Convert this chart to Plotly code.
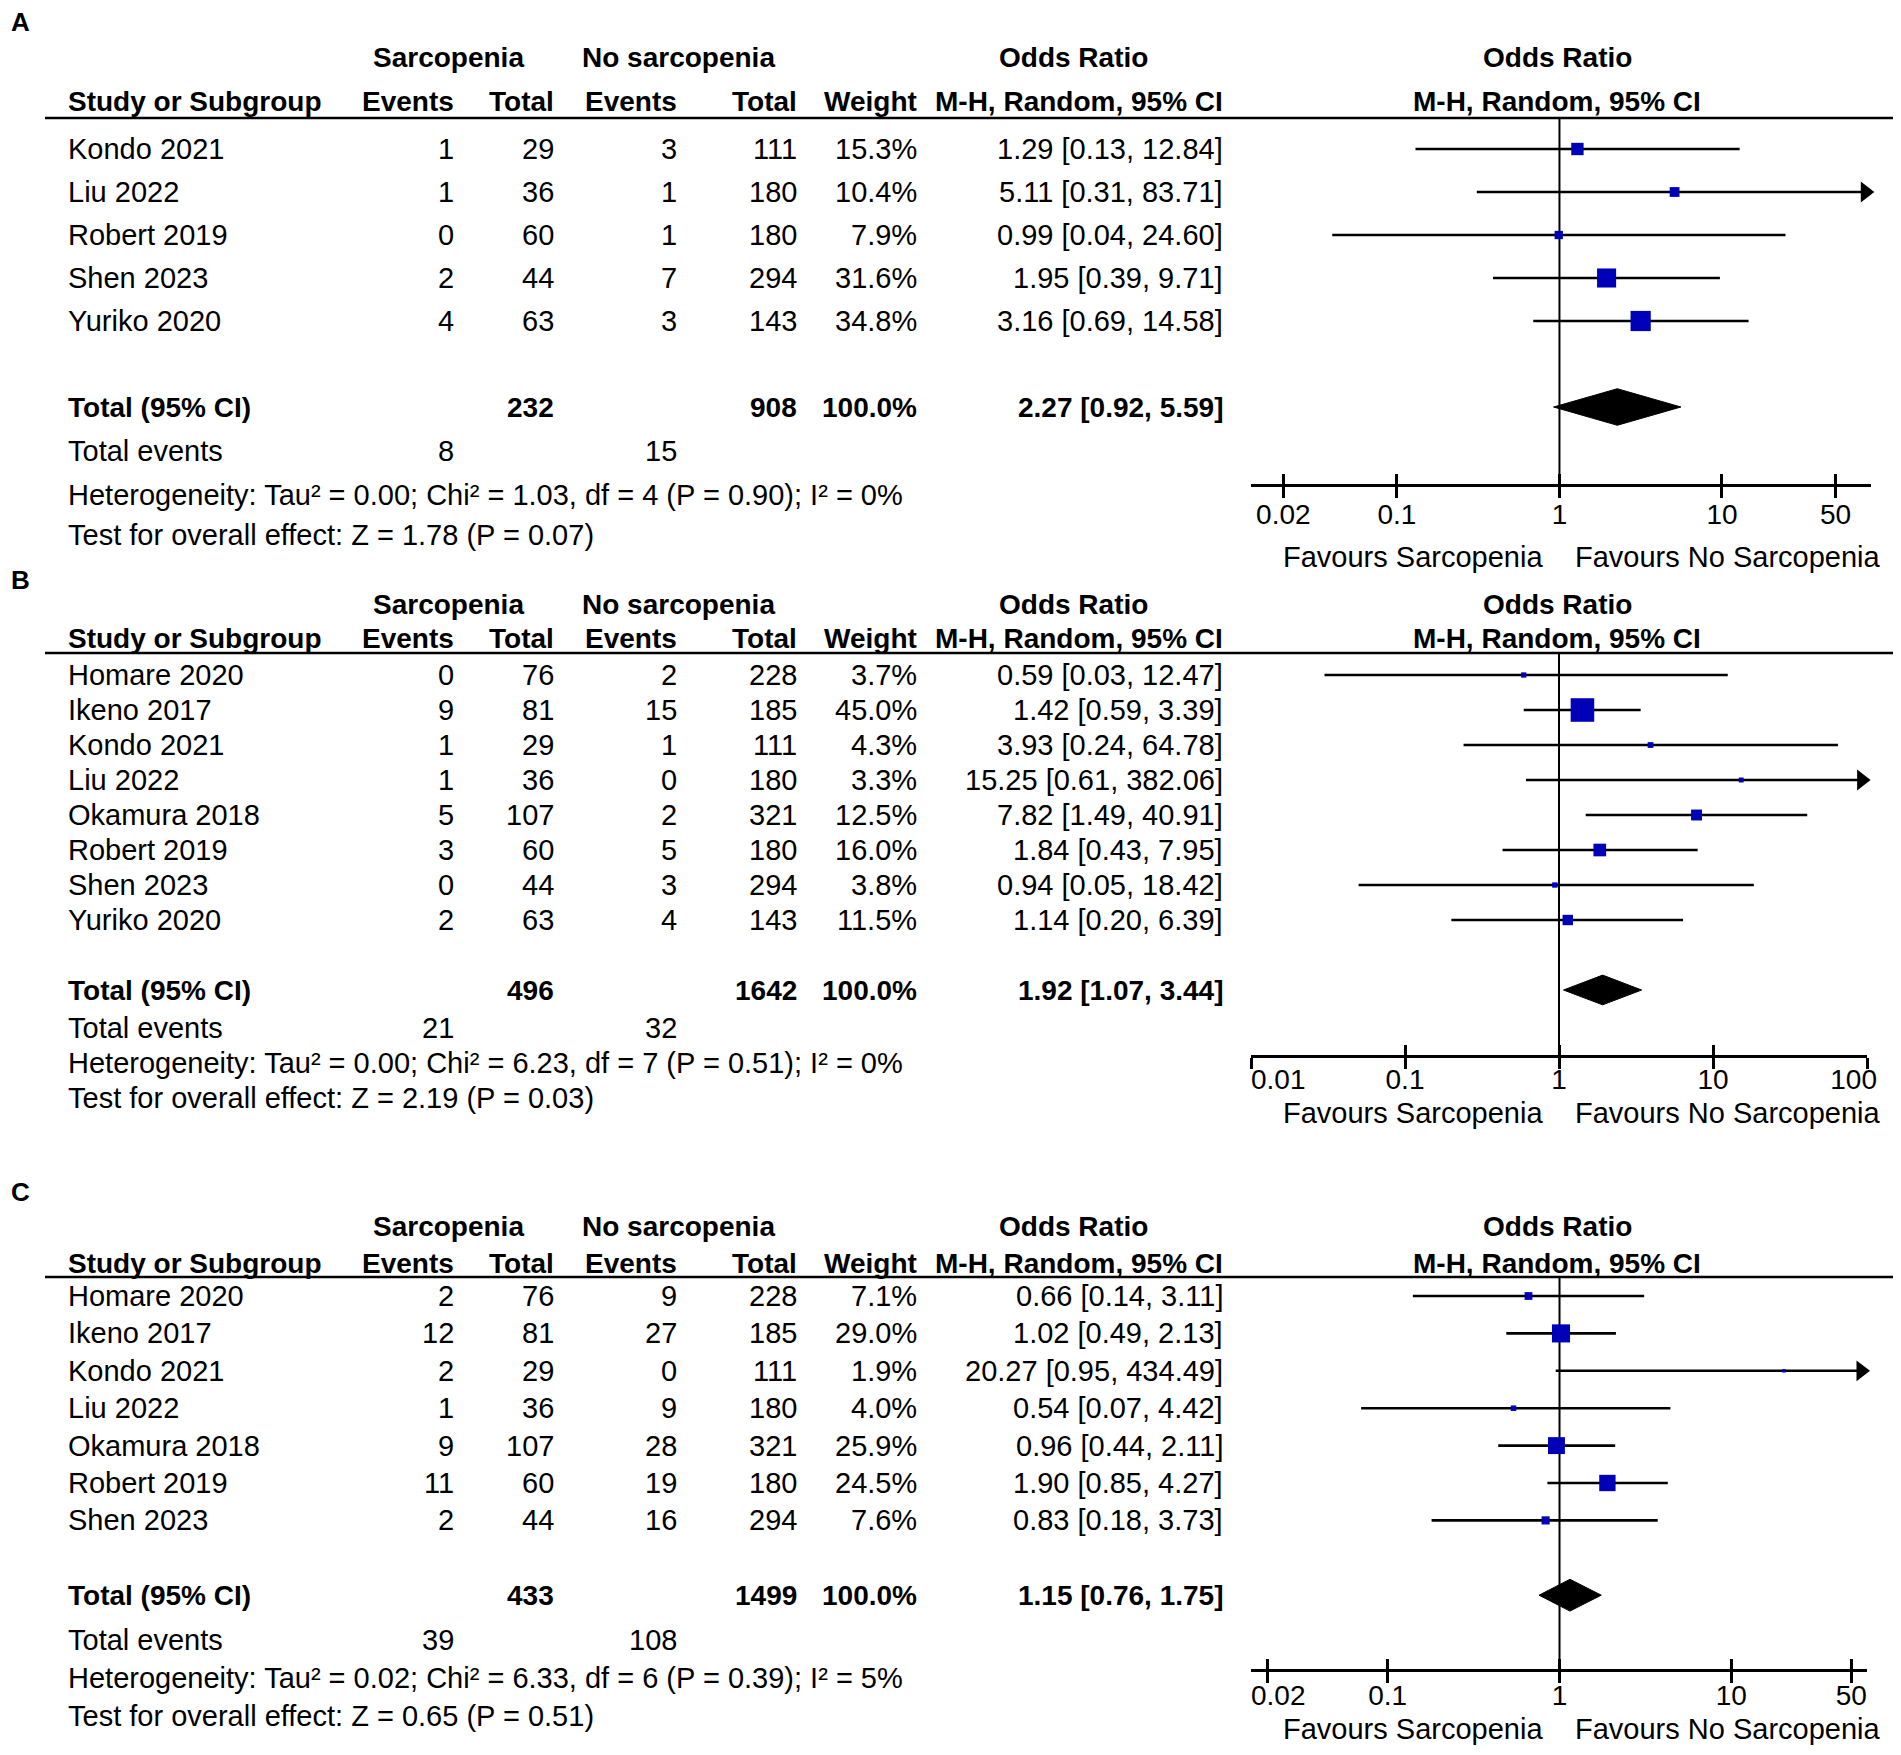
import math
import plotly.graph_objects as go

W, H = 1901, 1755

# ---------------- data ----------------
# Panel A
a_studies = ["Kondo 2021", "Liu 2022", "Robert 2019", "Shen 2023", "Yuriko 2020"]
a_sar_events = [1, 1, 0, 2, 4]
a_sar_total = [29, 36, 60, 44, 63]
a_no_events = [3, 1, 1, 7, 3]
a_no_total = [111, 180, 180, 294, 143]
a_weight = [15.3, 10.4, 7.9, 31.6, 34.8]
a_or = [1.29, 5.11, 0.99, 1.95, 3.16]
a_lo = [0.13, 0.31, 0.04, 0.39, 0.69]
a_hi = [12.84, 83.71, 24.60, 9.71, 14.58]
a_totals = [232, 908, 100.0]
a_total_events = [8, 15]
a_pooled = [2.27, 0.92, 5.59]
a_het = "Heterogeneity: Tau² = 0.00; Chi² = 1.03, df = 4 (P = 0.90); I² = 0%"
a_test = "Test for overall effect: Z = 1.78 (P = 0.07)"
a_ticks = [0.02, 0.1, 1, 10, 50]
a_tick_labels = ["0.02", "0.1", "1", "10", "50"]

# Panel B
b_studies = ["Homare 2020", "Ikeno 2017", "Kondo 2021", "Liu 2022", "Okamura 2018",
             "Robert 2019", "Shen 2023", "Yuriko 2020"]
b_sar_events = [0, 9, 1, 1, 5, 3, 0, 2]
b_sar_total = [76, 81, 29, 36, 107, 60, 44, 63]
b_no_events = [2, 15, 1, 0, 2, 5, 3, 4]
b_no_total = [228, 185, 111, 180, 321, 180, 294, 143]
b_weight = [3.7, 45.0, 4.3, 3.3, 12.5, 16.0, 3.8, 11.5]
b_or = [0.59, 1.42, 3.93, 15.25, 7.82, 1.84, 0.94, 1.14]
b_lo = [0.03, 0.59, 0.24, 0.61, 1.49, 0.43, 0.05, 0.20]
b_hi = [12.47, 3.39, 64.78, 382.06, 40.91, 7.95, 18.42, 6.39]
b_totals = [496, 1642, 100.0]
b_total_events = [21, 32]
b_pooled = [1.92, 1.07, 3.44]
b_het = "Heterogeneity: Tau² = 0.00; Chi² = 6.23, df = 7 (P = 0.51); I² = 0%"
b_test = "Test for overall effect: Z = 2.19 (P = 0.03)"
b_ticks = [0.01, 0.1, 1, 10, 100]
b_tick_labels = ["0.01", "0.1", "1", "10", "100"]

# Panel C
c_studies = ["Homare 2020", "Ikeno 2017", "Kondo 2021", "Liu 2022", "Okamura 2018",
             "Robert 2019", "Shen 2023"]
c_sar_events = [2, 12, 2, 1, 9, 11, 2]
c_sar_total = [76, 81, 29, 36, 107, 60, 44]
c_no_events = [9, 27, 0, 9, 28, 19, 16]
c_no_total = [228, 185, 111, 180, 321, 180, 294]
c_weight = [7.1, 29.0, 1.9, 4.0, 25.9, 24.5, 7.6]
c_or = [0.66, 1.02, 20.27, 0.54, 0.96, 1.90, 0.83]
c_lo = [0.14, 0.49, 0.95, 0.07, 0.44, 0.85, 0.18]
c_hi = [3.11, 2.13, 434.49, 4.42, 2.11, 4.27, 3.73]
c_totals = [433, 1499, 100.0]
c_total_events = [39, 108]
c_pooled = [1.15, 0.76, 1.75]
c_het = "Heterogeneity: Tau² = 0.02; Chi² = 6.33, df = 6 (P = 0.39); I² = 5%"
c_test = "Test for overall effect: Z = 0.65 (P = 0.51)"
c_ticks = [0.02, 0.1, 1, 10, 50]
c_tick_labels = ["0.02", "0.1", "1", "10", "50"]

group_left = "Sarcopenia"
group_right = "No sarcopenia"
fav_left = "Favours Sarcopenia"
fav_right = "Favours No Sarcopenia"

# ---------------- layout constants (pixels) ----------------
FONT = "Liberation Sans, Arial, Helvetica, sans-serif"
FS = 28      # bold headers / tick labels
FSR = 29     # regular body text
BLUE = "#0000B8"
OX, OY = -8, -8   # compensate page body margin
LABEL_RIGHT_BOUND = 1877
COL = dict(name=67, se=455, st=555, ne=678, nt=798, w=918, orx=1224,
           grp_l=448, grp_r=678, or_hdr=1073, forest_hdr=1557)

panels = [
    dict(label="A", top=0, bottom=568, lab=22, h1=58, h2=102, line=118, y0=149, dy=43,
         total_k=6, tev=451, het=495, test=535, axis=485, fav=557, standoff=-7,
         dom=(1251, 1871), rng=(-1.898, 1.917),
         studies=a_studies, se=a_sar_events, st=a_sar_total, ne=a_no_events, nt=a_no_total,
         w=a_weight, orv=a_or, lo=a_lo, hi=a_hi, totals=a_totals, tevents=a_total_events,
         pooled=a_pooled, hettxt=a_het, testtxt=a_test, ticks=a_ticks, ticklab=a_tick_labels),
    dict(label="B", top=568, bottom=1165, lab=580, h1=604, h2=638, line=653, y0=675, dy=35,
         total_k=9, tev=1028, het=1063, test=1098, axis=1055.6, fav=1113, standoff=-12,
         dom=(1251, 1867), rng=(-2.0, 2.0),
         studies=b_studies, se=b_sar_events, st=b_sar_total, ne=b_no_events, nt=b_no_total,
         w=b_weight, orv=b_or, lo=b_lo, hi=b_hi, totals=b_totals, tevents=b_total_events,
         pooled=b_pooled, hettxt=b_het, testtxt=b_test, ticks=b_ticks, ticklab=b_tick_labels),
    dict(label="C", top=1165, bottom=1755, lab=1192, h1=1226, h2=1263, line=1277, y0=1296, dy=37.4,
         total_k=8, tev=1640, het=1678, test=1715.5, axis=1669.7, fav=1729, standoff=-10,
         dom=(1251, 1867), rng=(-1.796, 1.790),
         studies=c_studies, se=c_sar_events, st=c_sar_total, ne=c_no_events, nt=c_no_total,
         w=c_weight, orv=c_or, lo=c_lo, hi=c_hi, totals=c_totals, tevents=c_total_events,
         pooled=c_pooled, hettxt=c_het, testtxt=c_test, ticks=c_ticks, ticklab=c_tick_labels),
]


def px(x):
    return (x + OX) / W


def py(y):
    return 1 - (y + OY) / H


def label_halfwidth(s):
    w = sum(0.278 if ch == "." else 0.556 for ch in s)
    return w * FS / 2


fig = go.Figure()
annotations = []
shapes = []
layout_axes = {}


def txt(x, y, s, anchor="right", bold=False, size=None, yref="paper"):
    if size is None:
        size = FS if bold else FSR
    annotations.append(dict(
        x=px(x), y=y, xref="paper", yref=yref,
        text=f"<b>{s}</b>" if bold else s, showarrow=False,
        xanchor=anchor, yanchor="middle", borderpad=0,
        font=dict(family=FONT, size=size, color="black")))


for i, P in enumerate(panels):
    xn, on, ln = 3 * i + 1, 3 * i + 2, 3 * i + 3
    yn = i + 1
    xref = "x" if xn == 1 else f"x{xn}"
    oref, lref = f"x{on}", f"x{ln}"
    yref = "y" if yn == 1 else f"y{yn}"
    xkey = "xaxis" if xn == 1 else f"xaxis{xn}"
    okey, lkey = f"xaxis{on}", f"xaxis{ln}"
    ykey = "yaxis" if yn == 1 else f"yaxis{yn}"

    y0, dy = P["y0"], P["dy"]

    def v(p):
        return (p - y0) / dy

    rmin, rmax = P["rng"]
    d0, d1 = P["dom"]
    dpp = (d1 - d0) / (rmax - rmin)
    dom = [px(d0), px(d1)]
    top_px = max(P["top"] + OY, 0)
    bot_px = min(P["bottom"] + OY, H)

    # tick label positions kept inside the axis extent (as in RevMan)
    lab_vals = []
    for t, s in zip(P["ticks"], P["ticklab"]):
        tp = d0 + (math.log10(t) - rmin) * dpp
        hw = label_halfwidth(s)
        c = min(max(tp, d0 + hw), LABEL_RIGHT_BOUND - hw)
        lab_vals.append(10 ** (rmin + (c - d0) / dpp))

    common = dict(type="log", range=[rmin, rmax], domain=dom, anchor="free",
                  position=py(P["axis"]), showgrid=False, zeroline=False,
                  fixedrange=True, automargin=False)
    layout_axes[ykey] = dict(range=[v(bot_px - OY), v(top_px - OY)],
                             domain=[1 - bot_px / H, 1 - top_px / H],
                             visible=False, fixedrange=True, anchor=xref)
    layout_axes[xkey] = dict(**common, showline=True, linecolor="black", linewidth=3,
                             ticks="outside", ticklen=11, tickwidth=2.5, tickcolor="black",
                             tickvals=P["ticks"], showticklabels=False)
    layout_axes[okey] = dict(**common, overlaying=xref, showline=False,
                             ticks="inside", ticklen=11, tickwidth=2.5, tickcolor="black",
                             tickvals=P["ticks"], showticklabels=False)
    layout_axes[lkey] = dict(**common, overlaying=xref, showline=False,
                             ticks="outside", ticklen=11, tickwidth=1,
                             tickcolor="rgba(0,0,0,0)",
                             tickvals=lab_vals, ticktext=P["ticklab"],
                             tickfont=dict(family=FONT, size=FS, color="black"),
                             ticklabelstandoff=P["standoff"])

    n = len(P["studies"])
    ks = list(range(n))
    xmax = 10 ** rmax
    arrow_x = 10 ** (rmax - 0.035)

    # line of no effect
    fig.add_trace(go.Scatter(x=[1, 1], y=[v(P["line"]), v(P["axis"])], mode="lines",
                             line=dict(color="black", width=2), xaxis=xref, yaxis=yref,
                             hoverinfo="skip", showlegend=False))
    # confidence intervals
    cx, cy = [], []
    for k, lo, hi in zip(ks, P["lo"], P["hi"]):
        cx += [lo, min(hi, arrow_x), None]
        cy += [k, k, None]
    fig.add_trace(go.Scatter(x=cx, y=cy, mode="lines", line=dict(color="black", width=2.6),
                             xaxis=xref, yaxis=yref, hoverinfo="skip", showlegend=False))
    # arrows for truncated intervals
    ax_, ay_ = [], []
    for k, hi in zip(ks, P["hi"]):
        if hi > xmax:
            ax_.append(arrow_x)
            ay_.append(k)
    if ax_:
        fig.add_trace(go.Scatter(x=ax_, y=ay_, mode="markers", cliponaxis=False,
                                 marker=dict(symbol="triangle-right", size=18, color="black",
                                             line=dict(width=0)),
                                 xaxis=xref, yaxis=yref, hoverinfo="skip", showlegend=False))
    # study squares (size from weight)
    fig.add_trace(go.Scatter(x=P["orv"], y=ks, mode="markers", cliponaxis=False,
                             marker=dict(symbol="square", color=BLUE, opacity=1,
                                         size=[2.4 * w ** 0.6 for w in P["w"]],
                                         line=dict(width=0)),
                             xaxis=xref, yaxis=yref, hoverinfo="skip", showlegend=False))
    # pooled diamond
    est, plo, phi = P["pooled"]
    kt = P["total_k"]
    hh = 0.425
    fig.add_trace(go.Scatter(x=[plo, est, phi, est, plo], y=[kt, kt - hh, kt, kt + hh, kt],
                             mode="lines", fill="toself", fillcolor="black",
                             line=dict(color="black", width=1), xaxis=xref, yaxis=yref,
                             hoverinfo="skip", showlegend=False))
    # invisible traces to bind the overlay tick / label axes
    for ar in (oref, lref):
        fig.add_trace(go.Scatter(x=P["ticks"], y=[v(P["axis"])] * len(P["ticks"]),
                                 mode="markers", marker=dict(opacity=0, size=1),
                                 xaxis=ar, yaxis=yref, hoverinfo="skip", showlegend=False))

    # ----- text -----
    txt(10, py(P["lab"]), P["label"], anchor="left", bold=True, size=26)
    # headers
    txt(COL["grp_l"], py(P["h1"]), group_left, anchor="center", bold=True)
    txt(COL["grp_r"], py(P["h1"]), group_right, anchor="center", bold=True)
    txt(COL["or_hdr"], py(P["h1"]), "Odds Ratio", anchor="center", bold=True)
    txt(COL["forest_hdr"], py(P["h1"]), "Odds Ratio", anchor="center", bold=True)
    txt(COL["name"], py(P["h2"]), "Study or Subgroup", anchor="left", bold=True)
    txt(COL["se"], py(P["h2"]), "Events", bold=True)
    txt(COL["st"], py(P["h2"]), "Total", bold=True)
    txt(COL["ne"], py(P["h2"]), "Events", bold=True)
    txt(COL["nt"], py(P["h2"]), "Total", bold=True)
    txt(COL["w"], py(P["h2"]), "Weight", bold=True)
    txt(COL["orx"], py(P["h2"]), "M-H, Random, 95% CI", bold=True)
    txt(COL["forest_hdr"], py(P["h2"]), "M-H, Random, 95% CI", anchor="center", bold=True)
    shapes.append(dict(type="line", xref="paper", yref="paper", x0=px(45), x1=px(1894),
                       y0=py(P["line"]), y1=py(P["line"]),
                       line=dict(color="black", width=2.5)))
    # study rows
    for k in ks:
        txt(COL["name"], k, P["studies"][k], anchor="left", yref=yref)
        txt(COL["se"], k, str(P["se"][k]), yref=yref)
        txt(COL["st"], k, str(P["st"][k]), yref=yref)
        txt(COL["ne"], k, str(P["ne"][k]), yref=yref)
        txt(COL["nt"], k, str(P["nt"][k]), yref=yref)
        txt(COL["w"], k, f"{P['w'][k]:.1f}%", yref=yref)
        txt(COL["orx"], k, f"{P['orv'][k]:.2f} [{P['lo'][k]:.2f}, {P['hi'][k]:.2f}]", yref=yref)
    # total row
    txt(COL["name"], kt, "Total (95% CI)", anchor="left", bold=True, yref=yref)
    txt(COL["st"], kt, str(P["totals"][0]), bold=True, yref=yref)
    txt(COL["nt"], kt, str(P["totals"][1]), bold=True, yref=yref)
    txt(COL["w"], kt, f"{P['totals'][2]:.1f}%", bold=True, yref=yref)
    txt(COL["orx"], kt, f"{est:.2f} [{plo:.2f}, {phi:.2f}]", bold=True, yref=yref)
    # footer
    txt(COL["name"], py(P["tev"]), "Total events", anchor="left")
    txt(COL["se"], py(P["tev"]), str(P["tevents"][0]))
    txt(COL["ne"], py(P["tev"]), str(P["tevents"][1]))
    txt(COL["name"], py(P["het"]), P["hettxt"], anchor="left")
    txt(COL["name"], py(P["test"]), P["testtxt"], anchor="left")
    txt(1544, py(P["fav"]), fav_left, anchor="right")
    txt(1574, py(P["fav"]), fav_right, anchor="left")

fig.update_layout(
    width=W, height=H,
    margin=dict(l=0, r=0, t=0, b=0, pad=0, autoexpand=False),
    paper_bgcolor="white", plot_bgcolor="rgba(0,0,0,0)",
    showlegend=False,
    annotations=annotations, shapes=shapes,
    font=dict(family=FONT, size=FS, color="black"),
    **layout_axes,
)

fig.write_html("out.html")
